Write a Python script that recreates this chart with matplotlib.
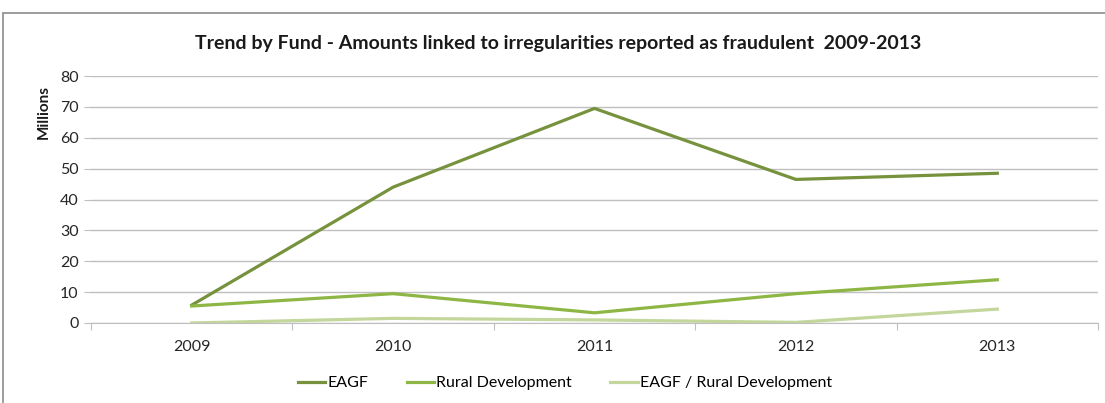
import numpy as np
import matplotlib.pyplot as plt
from matplotlib.patches import Rectangle

years = ["2009", "2010", "2011", "2012", "2013"]
eagf = [5.8, 44.0, 69.5, 46.5, 48.5]
rural = [5.5, 9.5, 3.3, 9.5, 14.0]
eagf_rural = [0.0, 1.5, 1.0, 0.2, 4.5]

series_names = ["EAGF", "Rural Development", "EAGF / Rural Development"]
colors = ["#76923C", "#8DB645", "#C3D69B"]

plt.rcParams["font.family"] = ["Lato", "DejaVu Sans"]

fig = plt.figure(figsize=(11.05, 4.03), dpi=100)
fig.patches.append(Rectangle((3 / 1105, -0.1), 1.2, 1 - 13 / 403 + 0.1,
                             transform=fig.transFigure, fill=False,
                             edgecolor="#8C8C8C", linewidth=1.2))

ax = fig.add_axes([91 / 1105, 1 - 323 / 403, (1098 - 91) / 1105, (323 - 76) / 403])
x = np.arange(len(years))
for vals, name, c in zip([eagf, rural, eagf_rural], series_names, colors):
    ax.plot(x, vals, color=c, linewidth=2.3, label=name, solid_joinstyle="round")

ax.set_xlim(-0.5, len(years) - 0.5)
ax.set_ylim(0, 80)
ax.set_yticks(np.arange(0, 81, 10))
ax.yaxis.grid(True, color="#BFBFBF", linewidth=1.0)
ax.set_axisbelow(True)
for s in ["top", "right", "left"]:
    ax.spines[s].set_visible(False)
ax.spines["bottom"].set_color("#BFBFBF")
ax.set_xticks(np.arange(-0.5, len(years), 1.0))
ax.set_xticklabels([])
ax.set_xticks(x, minor=True)
ax.set_xticklabels(years, minor=True, fontsize=11.5, color="#262626")
ax.tick_params(axis="x", which="major", length=5, color="#BFBFBF", direction="out")
ax.tick_params(axis="x", which="minor", length=0, pad=12)
ax.tick_params(axis="y", length=5, color="#BFBFBF", labelsize=11.5, labelcolor="#262626", pad=4)

fig.text(558 / 1105, 1 - 43 / 403, "Trend by Fund - Amounts linked to irregularities reported as fraudulent  2009-2013",
         ha="center", va="center", fontsize=14, fontweight="bold", color="#1a1a1a")
fig.text(44 / 1105, 1 - 112 / 403, "Millions", rotation=90, ha="center", va="center",
         fontsize=11, fontweight="bold", color="#1a1a1a")

fig.legend(loc="center", bbox_to_anchor=(565 / 1105, 1 - 383 / 403), ncol=3, frameon=False,
           fontsize=11.5, handlelength=1.7, columnspacing=2.4, handletextpad=0.15)

fig.savefig("out.png", dpi=100)
